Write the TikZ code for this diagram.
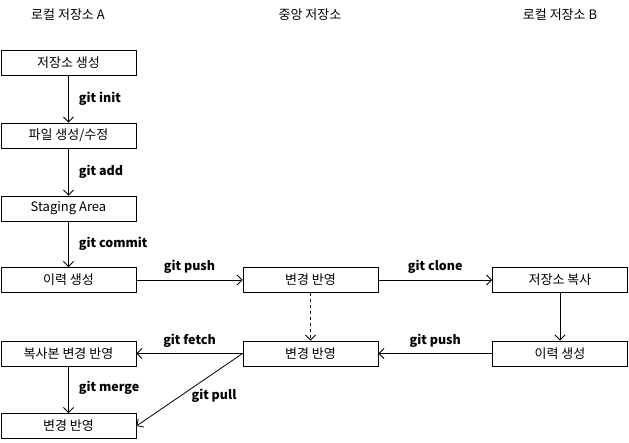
\documentclass[tikz,border=0pt]{standalone}
\usepackage{fontspec}
\setmainfont{Noto Sans CJK KR}
\usetikzlibrary{arrows.meta}
\begin{document}
\begin{tikzpicture}[x=1pt,y=-1pt,
  box/.style={draw,line width=0.9pt,minimum width=135pt,minimum height=25pt,inner sep=0pt,font=\fontsize{13}{14}\selectfont},
  hdr/.style={font=\fontsize{13}{14}\selectfont},
  lbl/.style={font=\fontsize{12.5}{14}\selectfont\bfseries,inner sep=0pt},
  arr/.style={draw,line width=0.8pt,-{Straight Barb[length=5pt,width=10pt,line width=0.8pt]}}]
\useasboundingbox (0,0) rectangle (629,442);
\node[hdr] (hA) at (68,15) {로컬 저장소 A};
\node[hdr] (hC) at (310,15) {중앙 저장소};
\node[hdr] (hB) at (560,15) {로컬 저장소 B};
\node[box] (a1) at (68.5,62.5) {저장소 생성};
\node[box] (a2) at (68.5,135.5) {파일 생성/수정};
\node[box] (a3) at (68.5,208.5) {Staging Area};
\node[box] (a4) at (68.5,280) {이력 생성};
\node[box] (a5) at (68.5,353.5) {복사본 변경 반영};
\node[box] (a6) at (68.5,426) {변경 반영};
\node[box] (c1) at (310.5,280) {변경 반영};
\node[box] (c2) at (310.5,353.5) {변경 반영};
\node[box] (b1) at (560,280) {저장소 복사};
\node[box] (b2) at (560,353.5) {이력 생성};
\draw[arr] (a1) -- node[lbl,right=10pt] {git init} (a2);
\draw[arr] (a2) -- node[lbl,right=10pt] {git add} (a3);
\draw[arr] (a3) -- node[lbl,right=10pt] {git commit} (a4);
\draw[arr] (a4) -- node[lbl,above=6pt] {git push} (c1);
\draw[arr] (c1) -- node[lbl,above=6pt] {git clone} (b1);
\draw[arr] (b1) -- (b2);
\draw[arr] (b2) -- node[lbl,above=6pt] {git push} (c2);
\draw[arr,dashed] (c1) -- (c2);
\draw[arr] (c2) -- node[lbl,above=6pt] {git fetch} (a5);
\draw[arr] (a5) -- node[lbl,right=10pt,pos=0.45] {git merge} (a6);
\draw[arr] (c2.west) -- (a6.east);
\node[lbl] (pull) at (214,396) {git pull};
\end{tikzpicture}
\end{document}
